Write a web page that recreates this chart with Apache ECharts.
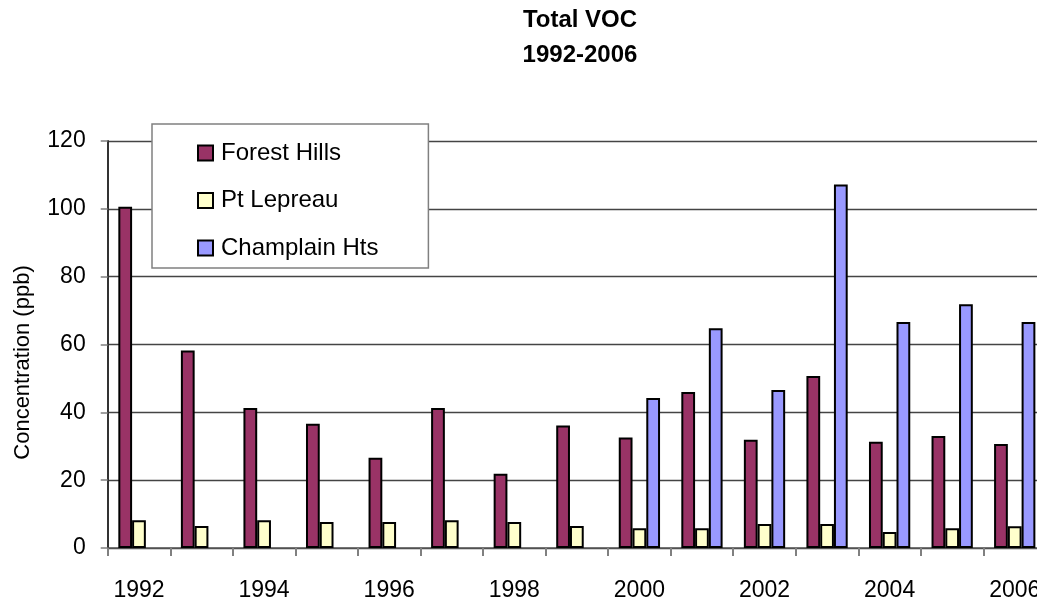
<!DOCTYPE html>
<html>
<head>
<meta charset="utf-8">
<script src="https://cdn.jsdelivr.net/npm/echarts@6/dist/echarts.min.js"></script>
<style>
html,body{margin:0;padding:0;background:#fff;overflow:hidden;width:1037px;height:602px;}
#chart{width:1100px;height:602px;}
</style>
</head>
<body>
<div id="chart"></div>
<script>
const categories = ['1992','1993','1994','1995','1996','1997','1998','1999','2000','2001','2002','2003','2004','2005','2006'];
const forestHills = [100.6, 58.2, 41.3, 36.6, 26.6, 41.3, 21.9, 36.1, 32.6, 46.0, 31.9, 50.7, 31.3, 33.0, 30.7];
const ptLepreau = [8.2, 6.5, 8.2, 7.7, 7.7, 8.2, 7.7, 6.5, 5.8, 5.8, 7.1, 7.1, 4.7, 5.8, 6.4];
const champlainHts = [null, null, null, null, null, null, null, null, 44.2, 64.8, 46.6, 107.2, 66.6, 71.9, 66.6];
const yTicks = [0, 20, 40, 60, 80, 100, 120];

const FONT = 'Liberation Sans, Arial, sans-serif';
const chart = echarts.init(document.getElementById('chart'), null, {renderer: 'canvas'});

const barStyle = (c) => ({color: c, borderColor: '#000', borderWidth: 2});

chart.setOption({
  animation: false,
  backgroundColor: '#fff',
  title: {
    text: 'Total VOC\n1992-2006',
    left: 580,
    top: 3,
    padding: 0,
    textAlign: 'center',
    textStyle: {fontFamily: FONT, fontSize: 24, fontWeight: 'bold', color: '#000', lineHeight: 35}
  },
  legend: {
    orient: 'vertical',
    left: 152,
    top: 124,
    padding: [17, 50, 8, 45],
    itemWidth: 15,
    itemHeight: 15,
    itemGap: 23.5,
    icon: 'rect',
    backgroundColor: '#fff',
    borderColor: '#808080',
    borderWidth: 1.5,
    textStyle: {fontFamily: FONT, fontSize: 24, color: '#000', lineHeight: 24, padding: [0, 0, 0, 3]},
    data: ['Forest Hills', 'Pt Lepreau', 'Champlain Hts']
  },
  grid: {left: 107.7, right: 54, top: 141, bottom: 54, containLabel: false},
  xAxis: {
    type: 'category',
    data: categories,
    boundaryGap: true,
    axisLine: {show: true, lineStyle: {color: '#555', width: 1.5}},
    axisTick: {show: true, interval: 0, length: 8, lineStyle: {color: '#808080', width: 2}},
    axisLabel: {interval: 1, margin: 31, fontFamily: FONT, fontSize: 23, color: '#000'},
    splitLine: {show: false}
  },
  yAxis: {
    type: 'value',
    min: yTicks[0],
    max: yTicks[yTicks.length - 1],
    interval: 20,
    name: 'Concentration (ppb)',
    nameLocation: 'middle',
    nameGap: 74,
    nameTextStyle: {fontFamily: FONT, fontSize: 22, color: '#000', padding: [0, 36, 0, 0]},
    axisLine: {show: true, lineStyle: {color: '#333', width: 2}},
    axisTick: {show: true, length: 7, lineStyle: {color: '#808080', width: 1.5}},
    axisLabel: {margin: 22, fontFamily: FONT, fontSize: 23, color: '#000'},
    splitLine: {show: true, lineStyle: {color: '#444', width: 1.3}}
  },
  series: [
    {name: 'Forest Hills', type: 'bar', data: forestHills, barGap: '0%', barCategoryGap: '34%', itemStyle: barStyle('#993366')},
    {name: 'Pt Lepreau', type: 'bar', data: ptLepreau, barGap: '0%', barCategoryGap: '34%', itemStyle: barStyle('#FFFFCC')},
    {name: 'Champlain Hts', type: 'bar', data: champlainHts, barGap: '0%', barCategoryGap: '34%', itemStyle: barStyle('#9999FF')}
  ]
});
</script>
</body>
</html>
